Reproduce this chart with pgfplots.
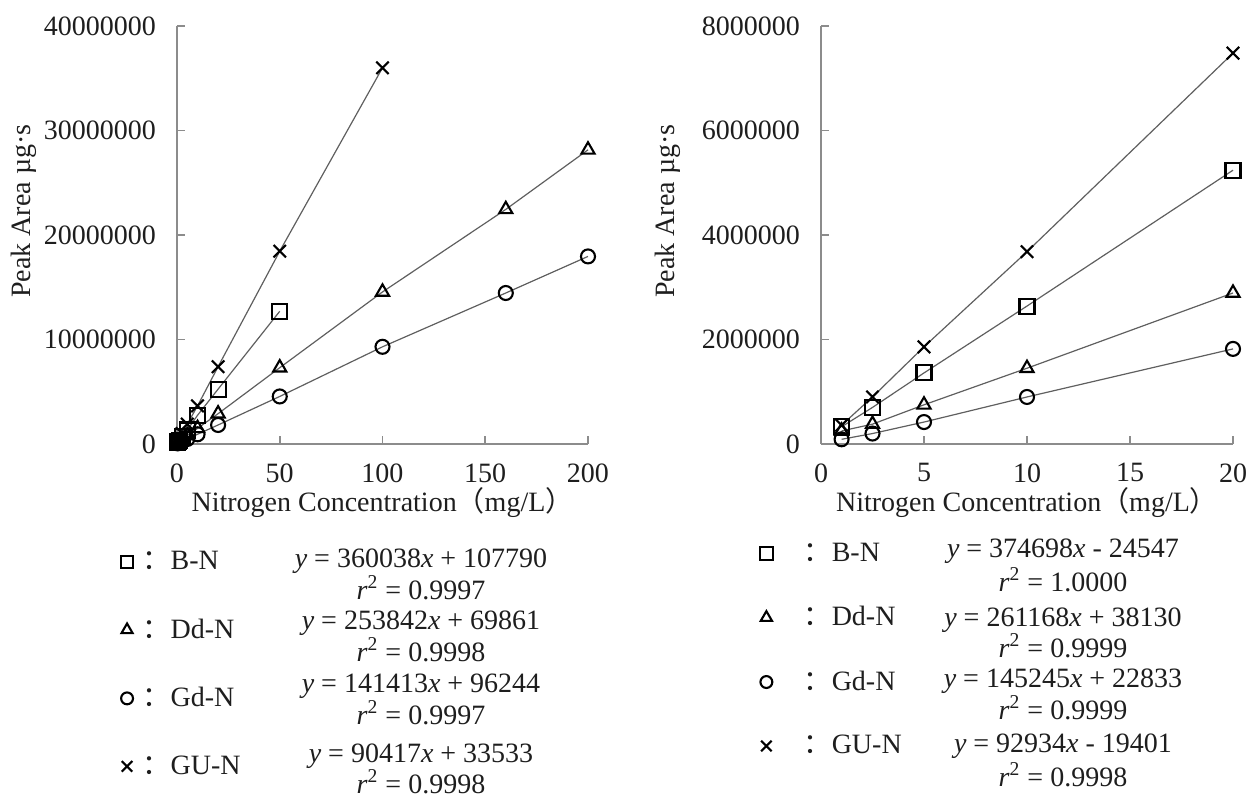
\documentclass[border=0pt]{standalone}
\usepackage{fontspec}
\setmainfont{Liberation Serif}
\newfontfamily\cjk{Noto Sans CJK SC}
\usepackage{pgfplots}
\pgfplotsset{compat=1.18}
\definecolor{axgray}{RGB}{140,140,140}
\definecolor{lngray}{RGB}{95,95,95}
\definecolor{txt}{RGB}{30,30,30}
\newcommand{\fs}{\fontsize{14}{16}\selectfont}
\pgfplotsset{
  myaxis/.style={
    scale only axis,
    axis lines*=left,
    axis line style={axgray, line width=0.9pt},
    tick style={axgray, line width=0.9pt},
    tick align=inside,
    major tick length=4pt,
    clip=false,
    ymin=0, xmin=0,
    tick label style={font=\fs, text=txt, /pgf/number format/assume math mode=true},
    /pgf/number format/fixed, /pgf/number format/1000 sep={},
    scaled ticks=false,
    yticklabel style={xshift=-7pt},
    xticklabel style={inner sep=0pt, yshift=-9.5pt},
    label style={font=\fs, text=txt},
    xlabel={Nitrogen Concentration{\cjk （}mg/L{\cjk ）}},
    ylabel={Peak Area µg·s},
    xlabel style={at={(axis description cs:0.5,-0.14)}, anchor=center},
    ylabel style={at={(axis description cs:-0.372,0.557)}, anchor=center},
    every axis plot/.append style={lngray, line width=0.6pt, mark options={black, line width=1.05pt, solid}},
    legend image code/.code={\draw[##1, every mark/.append style={scale=0.85}] plot coordinates {(0pt,0pt)};},
    legend cell align=left,
    legend style={draw=none, fill=none, inner sep=0pt, font=\fs, text=txt, nodes={inner sep=0pt}, column sep=0pt, row sep=23pt},
  },
  sq/.style={mark=square, mark size=3.75pt},
  tr/.style={mark=triangle, mark size=3.8pt},
  ci/.style={mark=o, mark size=3.5pt},
  cr/.style={mark=x, mark size=4.4pt},
}
\begin{document}
\begin{tikzpicture}
\useasboundingbox (0,0) rectangle (627.5pt,399pt);
% ---------------- left ----------------
\begin{axis}[myaxis, at={(88.5pt,177pt)}, anchor=south west,
  width=205.5pt, height=209pt,
  xmax=200, ymax=40000000,
  xtick={0,50,100,150,200}, ytick={0,10000000,20000000,30000000,40000000},
  legend style={at={(axis description cs:-0.138,-0.256)}, anchor=north west}]
\addplot[sq] coordinates {(0.25,130000) (0.5,200000) (1,320000) (2.5,700000) (5,1340000) (10,2750000) (20,5250000) (50,12700000)};
\addplot[tr] coordinates {(0.25,130000) (0.5,170000) (1,240000) (2.5,450000) (5,800000) (10,1500000) (20,2900000) (50,7300000) (100,14550000) (160,22450000) (200,28150000)};
\addplot[ci] coordinates {(0.25,60000) (0.5,80000) (1,120000) (2.5,250000) (5,480000) (10,930000) (20,1820000) (50,4550000) (100,9300000) (160,14450000) (200,17950000)};
\addplot[cr] coordinates {(0.25,190000) (0.5,290000) (1,470000) (2.5,1000000) (5,1900000) (10,3650000) (20,7400000) (50,18450000) (100,36000000)};
\legend{\hspace*{4.6pt}{\cjk ：}B-N,\hspace*{4.6pt}{\cjk ：}Dd-N,\hspace*{4.6pt}{\cjk ：}Gd-N,\hspace*{4.6pt}{\cjk ：}GU-N}
\end{axis}
% ---------------- right ----------------
\begin{axis}[myaxis, at={(410.5pt,177pt)}, anchor=south west,
  width=206pt, height=209pt,
  xmax=20, ymax=8000000,
  xtick={0,5,10,15,20}, ytick={0,2000000,4000000,6000000,8000000},
  ylabel style={at={(axis description cs:-0.371,0.557)}},
  legend style={at={(axis description cs:-0.149,-0.236)}, anchor=north west, row sep=21pt}]
\addplot[sq] coordinates {(1,330000) (2.5,700000) (5,1360000) (10,2640000) (20,5240000)};
\addplot[tr] coordinates {(1,250000) (2.5,380000) (5,750000) (10,1450000) (20,2890000)};
\addplot[ci] coordinates {(1,90000) (2.5,200000) (5,420000) (10,900000) (20,1820000)};
\addplot[cr] coordinates {(1,360000) (2.5,900000) (5,1860000) (10,3680000) (20,7480000)};
\legend{\hspace*{15.5pt}{\cjk ：}B-N,\hspace*{15.5pt}{\cjk ：}Dd-N,\hspace*{15.5pt}{\cjk ：}Gd-N,\hspace*{15.5pt}{\cjk ：}GU-N}
\end{axis}
% ---------------- equations ----------------
\begin{scope}[every node/.style={font=\fs, text=txt, inner sep=0pt, anchor=base}]
\node at (210.5pt,115.4pt) {\textit{y} = 360038\textit{x} + 107790};
\node at (210.5pt,99.4pt)  {\textit{r}\textsuperscript{2} = 0.9997};
\node at (210.5pt,84.4pt)  {\textit{y} = 253842\textit{x} + 69861};
\node at (210.5pt,68.4pt)  {\textit{r}\textsuperscript{2} = 0.9998};
\node at (210.5pt,52.9pt)  {\textit{y} = 141413\textit{x} + 96244};
\node at (210.5pt,36.9pt)  {\textit{r}\textsuperscript{2} = 0.9997};
\node at (210.5pt,17.5pt)  {\textit{y} = 90417\textit{x} + 33533};
\node at (210.5pt,2.3pt)   {\textit{r}\textsuperscript{2} = 0.9998};
\node at (531.5pt,120.4pt) {\textit{y} = 374698\textit{x} - 24547};
\node at (531.5pt,103.4pt) {\textit{r}\textsuperscript{2} = 1.0000};
\node at (531.5pt,85.9pt)  {\textit{y} = 261168\textit{x} + 38130};
\node at (531.5pt,70.4pt)  {\textit{r}\textsuperscript{2} = 0.9999};
\node at (531.5pt,55.4pt)  {\textit{y} = 145245\textit{x} + 22833};
\node at (531.5pt,39.4pt)  {\textit{r}\textsuperscript{2} = 0.9999};
\node at (531.5pt,22.9pt)  {\textit{y} = 92934\textit{x} - 19401};
\node at (531.5pt,5.9pt)   {\textit{r}\textsuperscript{2} = 0.9998};
\end{scope}
\end{tikzpicture}
\end{document}
